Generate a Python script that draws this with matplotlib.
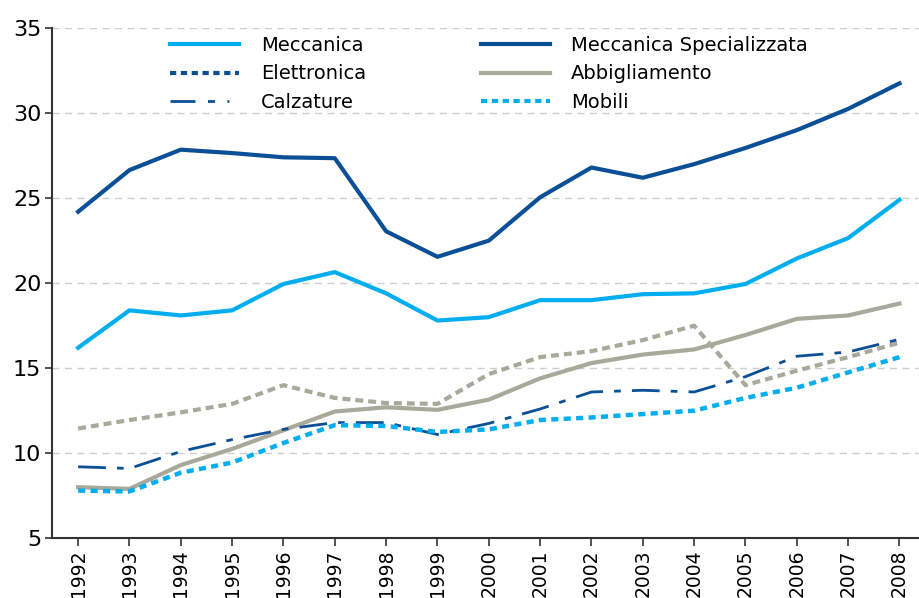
import numpy as np
import matplotlib.pyplot as plt
from matplotlib.lines import Line2D

plt.rcParams['font.family'] = ['DejaVu Sans']

years = list(range(1992, 2009))

meccanica = [16.2, 18.4, 18.1, 18.4, 19.95, 20.65, 19.4, 17.8, 18.0, 19.0, 19.0, 19.35, 19.4, 19.95, 21.45, 22.65, 24.9]
meccanica_spec = [24.2, 26.65, 27.85, 27.65, 27.4, 27.35, 23.05, 21.55, 22.5, 25.05, 26.8, 26.2, 27.0, 27.95, 29.0, 30.25, 31.75]
elettronica = [11.45, 11.95, 12.4, 12.9, 14.0, 13.25, 12.95, 12.9, 14.65, 15.65, 16.0, 16.65, 17.5, 14.0, 14.85, 15.65, 16.5]
abbigliamento = [8.0, 7.9, 9.3, 10.25, 11.35, 12.45, 12.7, 12.55, 13.15, 14.4, 15.3, 15.8, 16.1, 16.95, 17.9, 18.1, 18.8]
calzature = [9.2, 9.1, 10.1, 10.8, 11.4, 11.8, 11.8, 11.1, 11.75, 12.6, 13.6, 13.7, 13.6, 14.5, 15.7, 15.95, 16.7]
mobili = [7.8, 7.75, 8.85, 9.45, 10.6, 11.65, 11.6, 11.25, 11.4, 11.95, 12.1, 12.3, 12.5, 13.25, 13.85, 14.75, 15.65]

light_blue = '#00aeef'
dark_blue = '#0b4f96'
grey = '#a8a89b'

fig = plt.figure(figsize=(9.2, 5.98), dpi=100)
ax = fig.add_axes([0.057, 0.1, 0.943, 0.853])

x = np.arange(len(years))
ax.plot(x, meccanica_spec, color=dark_blue, lw=3, solid_joinstyle='round')
ax.plot(x, meccanica, color=light_blue, lw=3, solid_joinstyle='round')
ax.plot(x, abbigliamento, color=grey, lw=3, solid_joinstyle='round')
ax.plot(x, elettronica, color=grey, lw=3, dashes=(1.9, 1.2))
ax.plot(x, calzature, color=dark_blue, lw=2, dashes=(10, 4, 2.4, 4))
ax.plot(x, mobili, color=light_blue, lw=3.2, dashes=(1.6, 1.2))

ax.set_xlim(-0.5, 16.4)
ax.set_ylim(5, 35)
ax.set_yticks(range(5, 36, 5))
ax.set_xticks(x)
ax.set_xticklabels([str(y) for y in years], rotation=90, fontsize=13.5)
ax.tick_params(axis='y', labelsize=16, length=5, width=1.2, color='#333333', pad=3)
ax.tick_params(axis='x', length=6, width=1.2, color='#333333', pad=2)

for v in range(10, 36, 5):
    ax.axhline(v, color='#cccccc', lw=1, dashes=(5, 4), zorder=0)

for s in ['top', 'right']:
    ax.spines[s].set_visible(False)
for s in ['left', 'bottom']:
    ax.spines[s].set_color('#333333')
    ax.spines[s].set_linewidth(1.5)

handles = [
    Line2D([], [], color=light_blue, lw=3),
    Line2D([], [], color=dark_blue, lw=3, dashes=(1.5, 1.1)),
    Line2D([], [], color=dark_blue, lw=2, dashes=(9, 4.5, 2.5, 4.5, 0.7, 4.5)),
    Line2D([], [], color=dark_blue, lw=3),
    Line2D([], [], color=grey, lw=3),
    Line2D([], [], color=light_blue, lw=3, dashes=(1.5, 1.1)),
]
labels = ['Meccanica', 'Elettronica', 'Calzature',
          'Meccanica Specializzata', 'Abbigliamento', 'Mobili']
ax.legend(handles, labels, ncol=2, frameon=False, fontsize=14,
          loc='upper left', bbox_to_anchor=(0.136, 0.985),
          handlelength=3.55, handletextpad=1.1, columnspacing=5.9,
          labelspacing=0.5, borderpad=0, borderaxespad=0)

fig.savefig('out.png', dpi=100)
